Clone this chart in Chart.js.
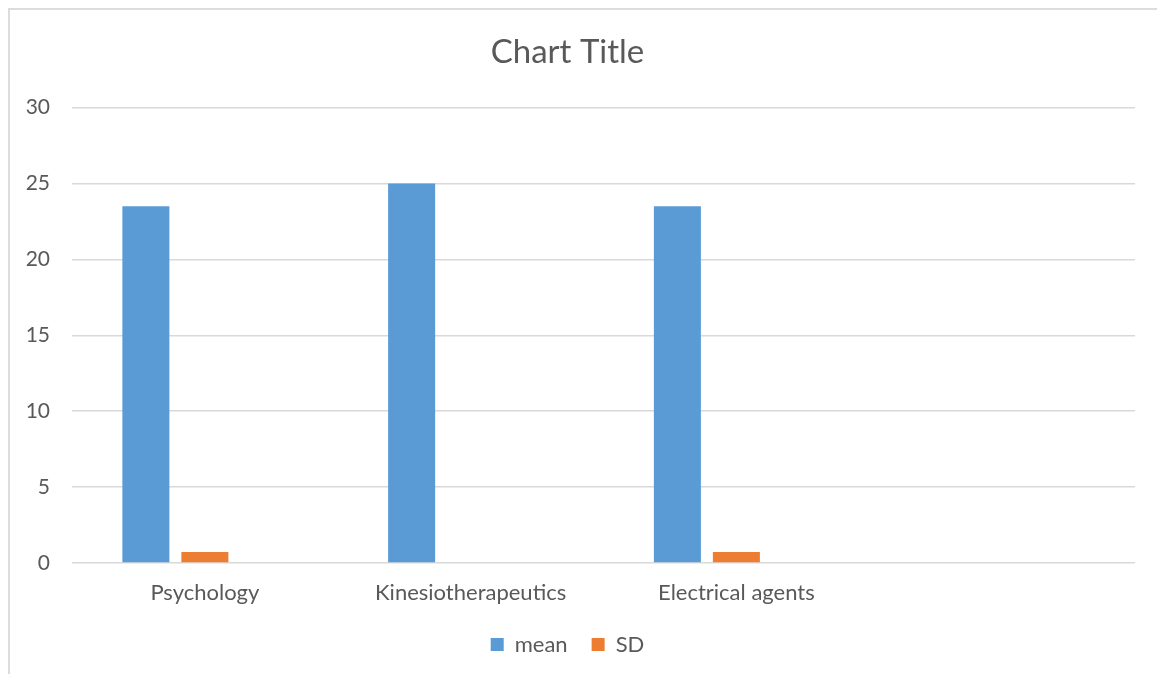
<!DOCTYPE html>
<html>
<head>
<meta charset="utf-8">
<script src="https://cdn.jsdelivr.net/npm/chart.js@4"></script>
<style>
  html, body { margin: 0; padding: 0; background: #fff; overflow: hidden; }
  #frame {
    position: absolute; left: 8px; top: 8px; width: 1200px; height: 700px;
    border-left: 2px solid #dcdcdc; border-top: 2px solid #dcdcdc;
  }
  #wrap { position: absolute; left: 0; top: 0; width: 1157px; height: 690px; }
</style>
</head>
<body>
<div id="frame"></div>
<div id="wrap"><canvas id="bar_chart"></canvas></div>
<script>
const categories = ['Psychology', 'Kinesiotherapeutics', 'Electrical agents', ''];
const meanValues = [23.5, 25, 23.5, null];
const sdValues = [0.72, 0, 0.72, null];
const emptySeries = [null, null, null, null];
const yTicks = [0, 5, 10, 15, 20, 25, 30];

function prepareChart()
{
    const textColor = '#595959';
    const gridColor = '#d9d9d9';

    const data = {
        labels: categories,
        datasets: [{
            label: 'mean',
            backgroundColor: '#5b9bd5',
            data: meanValues
        }, {
            label: 'SD',
            backgroundColor: '#ed7d31',
            data: sdValues
        }, {
            label: '',
            backgroundColor: 'rgba(0,0,0,0)',
            data: emptySeries
        }]
    };

    const config = {
        type: 'bar',
        data: data,
        options: {
            maintainAspectRatio: false,
            responsive: true,
            animation: false,
            categoryPercentage: 0.666,
            barPercentage: 0.797,
            layout: { padding: { left: 0, right: 22, top: 33, bottom: 24.5 } },
            plugins: {
                title: {
                    display: true,
                    text: 'Chart Title',
                    color: textColor,
                    font: { family: 'Lato', size: 33, weight: 'normal' },
                    padding: { top: 0, bottom: 35 }
                },
                legend: {
                    position: 'bottom',
                    labels: {
                        color: textColor,
                        font: { family: 'Lato', size: 22 },
                        boxWidth: 13,
                        boxHeight: 13,
                        padding: 24,
                        filter: item => item.text !== ''
                    }
                },
                tooltip: { enabled: false }
            },
            scales: {
                x: {
                    grid: { display: false, drawTicks: false },
                    border: { display: false },
                    afterFit: axis => { axis.height = 46.5; },
                    ticks: {
                        color: textColor,
                        font: { family: 'Lato', size: 22 },
                        padding: 17,
                        maxRotation: 0
                    }
                },
                y: {
                    min: 0,
                    max: 30,
                    afterBuildTicks: axis => { axis.ticks = yTicks.map(v => ({ value: v })); },
                    afterFit: axis => { axis.width = 72; },
                    grid: { color: gridColor, lineWidth: 1.5, drawTicks: false },
                    border: { display: false },
                    ticks: {
                        color: textColor,
                        font: { family: 'Lato', size: 21 },
                        padding: 22
                    }
                }
            }
        }
    };

    new Chart(document.getElementById('bar_chart'), config);
}

window.addEventListener('load', prepareChart);
</script>
</body>
</html>
